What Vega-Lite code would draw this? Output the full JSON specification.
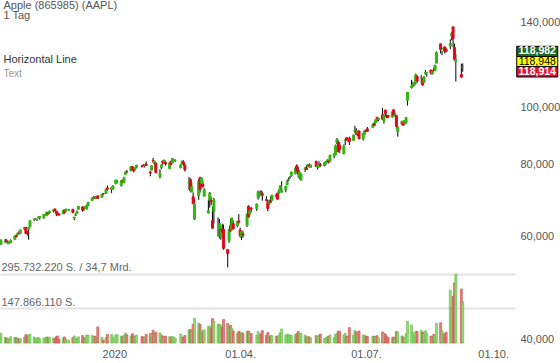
{
  "$schema": "https://vega.github.io/schema/vega-lite/v6.json",
  "width": 515,
  "height": 343,
  "autosize": {"type": "none"},
  "padding": {"left": 0, "top": 0, "right": 45, "bottom": 20},
  "background": "#ffffff",
  "config": {
    "view": {"stroke": null},
    "font": "Liberation Sans",
    "axis": {"labelFont": "Liberation Sans"},
    "text": {"font": "Liberation Sans"}
  },
  "datasets": {
    "px": [
      {"d":"2019-10-11","o":58.24,"h":59.41,"l":58.08,"c":59.05,"v":41.9},
      {"d":"2019-10-14","o":58.73,"h":59.53,"l":58.67,"c":58.97,"v":24.4},
      {"d":"2019-10-15","o":59.10,"h":59.41,"l":58.72,"c":58.83,"v":21.6},
      {"d":"2019-10-16","o":58.34,"h":58.81,"l":58.30,"c":58.59,"v":19.3},
      {"d":"2019-10-17","o":58.77,"h":59.04,"l":58.38,"c":58.82,"v":17.2},
      {"d":"2019-10-18","o":58.65,"h":59.40,"l":58.57,"c":59.10,"v":27.0},
      {"d":"2019-10-21","o":59.38,"h":60.25,"l":59.33,"c":60.13,"v":23.7},
      {"d":"2019-10-22","o":60.29,"h":60.55,"l":59.91,"c":59.99,"v":22.7},
      {"d":"2019-10-23","o":60.53,"h":60.81,"l":60.31,"c":60.79,"v":19.5},
      {"d":"2019-10-24","o":61.13,"h":61.20,"l":60.45,"c":60.90,"v":17.9},
      {"d":"2019-10-25","o":60.79,"h":61.68,"l":60.72,"c":61.65,"v":18.4},
      {"d":"2019-10-28","o":61.86,"h":62.31,"l":61.68,"c":62.26,"v":24.9},
      {"d":"2019-10-29","o":62.24,"h":62.44,"l":60.64,"c":60.82,"v":35.7},
      {"d":"2019-10-30","o":61.19,"h":61.33,"l":60.30,"c":60.81,"v":31.1},
      {"d":"2019-10-31","o":61.81,"h":62.29,"l":59.31,"c":62.19,"v":34.8},
      {"d":"2019-11-01","o":62.38,"h":63.98,"l":62.29,"c":63.96,"v":37.8},
      {"d":"2019-11-04","o":64.33,"h":64.46,"l":63.85,"c":64.38,"v":25.8},
      {"d":"2019-11-05","o":64.26,"h":64.55,"l":64.08,"c":64.28,"v":19.9},
      {"d":"2019-11-06","o":64.19,"h":64.37,"l":63.84,"c":64.31,"v":19.8},
      {"d":"2019-11-07","o":64.68,"h":65.09,"l":64.53,"c":64.86,"v":24.3},
      {"d":"2019-11-08","o":64.67,"h":65.11,"l":64.21,"c":65.04,"v":17.6},
      {"d":"2019-11-11","o":64.58,"h":65.62,"l":64.57,"c":65.55,"v":20.5},
      {"d":"2019-11-12","o":65.39,"h":65.70,"l":65.23,"c":65.49,"v":21.9},
      {"d":"2019-11-13","o":65.28,"h":66.20,"l":65.27,"c":66.12,"v":25.8},
      {"d":"2019-11-14","o":65.94,"h":66.22,"l":65.52,"c":65.66,"v":24.3},
      {"d":"2019-11-15","o":65.92,"h":66.45,"l":65.75,"c":66.44,"v":25.1},
      {"d":"2019-11-18","o":66.45,"h":66.86,"l":66.06,"c":66.78,"v":21.6},
      {"d":"2019-11-19","o":66.98,"h":67.00,"l":66.35,"c":66.57,"v":19.0},
      {"d":"2019-11-20","o":66.39,"h":66.52,"l":65.10,"c":65.80,"v":26.6},
      {"d":"2019-11-21","o":65.92,"h":66.00,"l":65.29,"c":65.50,"v":30.3},
      {"d":"2019-11-22","o":65.65,"h":65.80,"l":65.21,"c":65.45,"v":16.3},
      {"d":"2019-11-25","o":65.68,"h":66.61,"l":65.63,"c":66.59,"v":21.1},
      {"d":"2019-11-26","o":66.74,"h":66.79,"l":65.63,"c":66.07,"v":26.2},
      {"d":"2019-11-27","o":66.39,"h":66.99,"l":66.33,"c":66.96,"v":16.4},
      {"d":"2019-11-29","o":66.65,"h":67.00,"l":66.47,"c":66.81,"v":11.7},
      {"d":"2019-12-02","o":66.82,"h":67.06,"l":65.86,"c":66.04,"v":23.1},
      {"d":"2019-12-03","o":64.58,"h":64.88,"l":64.07,"c":64.86,"v":30.3},
      {"d":"2019-12-04","o":65.27,"h":65.83,"l":65.17,"c":65.44,"v":21.3},
      {"d":"2019-12-05","o":65.95,"h":66.47,"l":65.68,"c":66.39,"v":18.6},
      {"d":"2019-12-06","o":66.87,"h":67.75,"l":66.82,"c":67.68,"v":26.5},
      {"d":"2019-12-09","o":67.50,"h":67.70,"l":66.23,"c":66.73,"v":32.2},
      {"d":"2019-12-10","o":67.15,"h":67.52,"l":66.46,"c":67.12,"v":22.4},
      {"d":"2019-12-11","o":67.20,"h":67.78,"l":67.12,"c":67.69,"v":19.7},
      {"d":"2019-12-12","o":66.95,"h":68.14,"l":66.83,"c":67.86,"v":34.3},
      {"d":"2019-12-13","o":67.86,"h":68.82,"l":67.73,"c":68.79,"v":33.9},
      {"d":"2019-12-16","o":69.25,"h":70.20,"l":69.25,"c":69.97,"v":32.1},
      {"d":"2019-12-17","o":69.89,"h":70.44,"l":69.70,"c":70.10,"v":28.5},
      {"d":"2019-12-18","o":69.95,"h":70.48,"l":69.78,"c":69.93,"v":29.0},
      {"d":"2019-12-19","o":69.88,"h":70.29,"l":69.74,"c":70.01,"v":24.6},
      {"d":"2019-12-20","o":70.56,"h":70.66,"l":69.64,"c":69.86,"v":69.0},
      {"d":"2019-12-23","o":70.13,"h":71.06,"l":70.09,"c":71.00,"v":24.9},
      {"d":"2019-12-24","o":71.17,"h":71.22,"l":70.73,"c":71.07,"v":12.1},
      {"d":"2019-12-26","o":71.21,"h":72.50,"l":71.18,"c":72.48,"v":23.3},
      {"d":"2019-12-27","o":72.78,"h":73.49,"l":72.03,"c":72.45,"v":36.6},
      {"d":"2019-12-30","o":72.36,"h":73.17,"l":71.31,"c":72.88,"v":36.0},
      {"d":"2019-12-31","o":72.48,"h":73.42,"l":72.38,"c":73.41,"v":25.2},
      {"d":"2020-01-02","o":74.06,"h":75.15,"l":73.80,"c":75.09,"v":33.9},
      {"d":"2020-01-03","o":74.29,"h":75.14,"l":74.13,"c":74.36,"v":36.6},
      {"d":"2020-01-06","o":73.45,"h":74.99,"l":73.19,"c":74.95,"v":29.6},
      {"d":"2020-01-07","o":74.96,"h":75.22,"l":74.37,"c":74.60,"v":27.9},
      {"d":"2020-01-08","o":74.29,"h":76.11,"l":74.29,"c":75.80,"v":33.0},
      {"d":"2020-01-09","o":76.81,"h":77.61,"l":76.55,"c":77.41,"v":42.6},
      {"d":"2020-01-10","o":77.65,"h":78.17,"l":77.06,"c":77.58,"v":35.2},
      {"d":"2020-01-13","o":77.91,"h":79.27,"l":77.79,"c":79.24,"v":30.5},
      {"d":"2020-01-14","o":79.18,"h":79.39,"l":78.04,"c":78.17,"v":40.1},
      {"d":"2020-01-15","o":77.96,"h":78.88,"l":77.39,"c":77.83,"v":30.3},
      {"d":"2020-01-16","o":78.40,"h":78.93,"l":78.02,"c":78.81,"v":27.0},
      {"d":"2020-01-17","o":79.07,"h":79.68,"l":78.75,"c":79.68,"v":34.3},
      {"d":"2020-01-21","o":79.30,"h":79.75,"l":79.00,"c":79.14,"v":27.6},
      {"d":"2020-01-22","o":79.64,"h":79.99,"l":79.33,"c":79.43,"v":25.8},
      {"d":"2020-01-23","o":79.48,"h":79.89,"l":78.91,"c":79.81,"v":25.7},
      {"d":"2020-01-24","o":80.06,"h":80.83,"l":79.38,"c":79.58,"v":37.0},
      {"d":"2020-01-27","o":77.51,"h":77.94,"l":76.22,"c":77.24,"v":40.0},
      {"d":"2020-01-28","o":78.15,"h":79.60,"l":78.05,"c":79.42,"v":40.6},
      {"d":"2020-01-29","o":81.11,"h":81.96,"l":80.35,"c":81.08,"v":54.1},
      {"d":"2020-01-30","o":80.14,"h":81.02,"l":79.69,"c":80.97,"v":36.4},
      {"d":"2020-01-31","o":80.23,"h":80.67,"l":77.07,"c":77.38,"v":46.3},
      {"d":"2020-02-03","o":76.07,"h":78.37,"l":75.56,"c":77.17,"v":43.5},
      {"d":"2020-02-04","o":78.83,"h":79.91,"l":78.41,"c":79.71,"v":34.2},
      {"d":"2020-02-05","o":80.88,"h":81.19,"l":79.74,"c":80.36,"v":29.9},
      {"d":"2020-02-06","o":80.64,"h":81.31,"l":80.07,"c":81.30,"v":26.4},
      {"d":"2020-02-07","o":80.59,"h":80.85,"l":79.50,"c":80.01,"v":29.5},
      {"d":"2020-02-10","o":78.54,"h":80.39,"l":78.46,"c":80.39,"v":27.3},
      {"d":"2020-02-11","o":80.90,"h":80.97,"l":79.68,"c":79.90,"v":23.7},
      {"d":"2020-02-12","o":80.37,"h":81.81,"l":80.37,"c":81.80,"v":28.4},
      {"d":"2020-02-13","o":81.05,"h":81.56,"l":80.84,"c":81.22,"v":23.6},
      {"d":"2020-02-14","o":81.18,"h":81.50,"l":80.71,"c":81.24,"v":20.2},
      {"d":"2020-02-18","o":78.84,"h":79.94,"l":78.65,"c":79.75,"v":38.2},
      {"d":"2020-02-19","o":80.00,"h":81.14,"l":80.00,"c":80.90,"v":23.9},
      {"d":"2020-02-20","o":80.66,"h":81.16,"l":79.55,"c":80.07,"v":25.9},
      {"d":"2020-02-21","o":79.65,"h":80.11,"l":77.63,"c":78.26,"v":32.1},
      {"d":"2020-02-24","o":74.32,"h":76.04,"l":72.31,"c":74.54,"v":55.5},
      {"d":"2020-02-25","o":75.24,"h":75.63,"l":71.53,"c":72.02,"v":57.7},
      {"d":"2020-02-26","o":71.63,"h":74.47,"l":71.63,"c":73.16,"v":49.7},
      {"d":"2020-02-27","o":70.28,"h":71.50,"l":68.24,"c":68.38,"v":80.2},
      {"d":"2020-02-28","o":64.32,"h":69.60,"l":64.09,"c":68.34,"v":106.7},
      {"d":"2020-03-02","o":70.57,"h":75.36,"l":69.43,"c":74.70,"v":85.3},
      {"d":"2020-03-03","o":75.92,"h":76.00,"l":71.45,"c":72.33,"v":79.9},
      {"d":"2020-03-04","o":74.11,"h":75.85,"l":73.28,"c":75.68,"v":54.8},
      {"d":"2020-03-05","o":73.88,"h":74.89,"l":72.85,"c":73.23,"v":47.1},
      {"d":"2020-03-06","o":70.50,"h":72.71,"l":70.31,"c":72.26,"v":56.5},
      {"d":"2020-03-09","o":65.94,"h":69.52,"l":65.75,"c":66.54,"v":71.7},
      {"d":"2020-03-10","o":69.29,"h":71.61,"l":67.34,"c":71.33,"v":71.4},
      {"d":"2020-03-11","o":69.35,"h":70.31,"l":67.96,"c":68.86,"v":64.1},
      {"d":"2020-03-12","o":63.99,"h":67.50,"l":62.00,"c":62.06,"v":104.6},
      {"d":"2020-03-13","o":66.22,"h":69.98,"l":63.24,"c":69.49,"v":92.7},
      {"d":"2020-03-16","o":60.49,"h":64.77,"l":60.00,"c":60.55,"v":80.6},
      {"d":"2020-03-17","o":61.88,"h":64.40,"l":59.60,"c":63.22,"v":81.0},
      {"d":"2020-03-18","o":59.94,"h":62.50,"l":59.28,"c":61.67,"v":75.1},
      {"d":"2020-03-19","o":61.85,"h":63.21,"l":60.65,"c":61.20,"v":67.1},
      {"d":"2020-03-20","o":61.79,"h":62.96,"l":57.00,"c":57.31,"v":100.4},
      {"d":"2020-03-23","o":57.02,"h":57.13,"l":53.15,"c":56.09,"v":84.2},
      {"d":"2020-03-24","o":59.09,"h":61.92,"l":58.58,"c":61.72,"v":71.9},
      {"d":"2020-03-25","o":62.69,"h":64.56,"l":61.08,"c":61.38,"v":75.9},
      {"d":"2020-03-26","o":61.63,"h":64.67,"l":61.59,"c":64.61,"v":63.1},
      {"d":"2020-03-27","o":63.19,"h":63.97,"l":61.76,"c":61.94,"v":51.1},
      {"d":"2020-03-30","o":62.69,"h":63.88,"l":62.35,"c":63.70,"v":41.9},
      {"d":"2020-03-31","o":63.90,"h":65.62,"l":63.00,"c":63.57,"v":49.9},
      {"d":"2020-04-01","o":61.63,"h":62.18,"l":59.78,"c":60.23,"v":44.3},
      {"d":"2020-04-02","o":60.08,"h":61.29,"l":59.22,"c":61.23,"v":45.1},
      {"d":"2020-04-03","o":60.70,"h":61.43,"l":59.74,"c":60.35,"v":41.4},
      {"d":"2020-04-06","o":62.72,"h":65.78,"l":62.35,"c":65.62,"v":50.3},
      {"d":"2020-04-07","o":67.70,"h":67.93,"l":64.75,"c":64.86,"v":51.5},
      {"d":"2020-04-08","o":65.68,"h":66.84,"l":65.31,"c":66.52,"v":42.2},
      {"d":"2020-04-09","o":67.18,"h":67.52,"l":66.18,"c":67.00,"v":40.5},
      {"d":"2020-04-13","o":67.08,"h":68.43,"l":66.46,"c":68.31,"v":33.2},
      {"d":"2020-04-14","o":70.00,"h":72.06,"l":69.51,"c":71.76,"v":48.7},
      {"d":"2020-04-15","o":70.60,"h":71.58,"l":70.16,"c":71.11,"v":32.9},
      {"d":"2020-04-16","o":71.85,"h":72.05,"l":70.59,"c":71.67,"v":39.4},
      {"d":"2020-04-17","o":71.17,"h":71.74,"l":69.21,"c":70.70,"v":53.8},
      {"d":"2020-04-20","o":69.49,"h":70.42,"l":69.21,"c":69.23,"v":32.9},
      {"d":"2020-04-21","o":69.07,"h":69.31,"l":66.36,"c":67.09,"v":45.2},
      {"d":"2020-04-22","o":68.40,"h":69.48,"l":68.05,"c":69.03,"v":29.3},
      {"d":"2020-04-23","o":68.97,"h":70.44,"l":68.72,"c":68.76,"v":31.2},
      {"d":"2020-04-24","o":69.30,"h":70.75,"l":69.25,"c":70.74,"v":31.6},
      {"d":"2020-04-27","o":70.45,"h":71.14,"l":69.99,"c":70.79,"v":29.0},
      {"d":"2020-04-28","o":71.27,"h":71.46,"l":69.55,"c":69.64,"v":28.2},
      {"d":"2020-04-29","o":71.18,"h":72.42,"l":70.97,"c":71.93,"v":33.8},
      {"d":"2020-04-30","o":72.49,"h":73.63,"l":72.09,"c":73.45,"v":45.8},
      {"d":"2020-05-01","o":71.56,"h":74.75,"l":71.46,"c":72.27,"v":60.2},
      {"d":"2020-05-04","o":72.29,"h":73.42,"l":71.58,"c":73.29,"v":33.4},
      {"d":"2020-05-05","o":73.76,"h":75.25,"l":73.61,"c":74.39,"v":37.6},
      {"d":"2020-05-06","o":75.11,"h":75.81,"l":74.72,"c":75.16,"v":35.6},
      {"d":"2020-05-07","o":75.81,"h":76.29,"l":75.49,"c":75.93,"v":33.6},
      {"d":"2020-05-08","o":76.41,"h":77.59,"l":76.07,"c":77.53,"v":33.5},
      {"d":"2020-05-11","o":77.03,"h":79.26,"l":76.81,"c":78.75,"v":36.5},
      {"d":"2020-05-12","o":79.46,"h":79.92,"l":77.73,"c":77.85,"v":40.5},
      {"d":"2020-05-13","o":78.04,"h":78.99,"l":75.80,"c":76.91,"v":50.2},
      {"d":"2020-05-14","o":76.13,"h":77.45,"l":75.38,"c":77.39,"v":39.7},
      {"d":"2020-05-15","o":75.09,"h":76.97,"l":75.05,"c":76.93,"v":41.6},
      {"d":"2020-05-18","o":78.29,"h":79.13,"l":77.58,"c":78.74,"v":33.8},
      {"d":"2020-05-19","o":78.76,"h":79.63,"l":78.25,"c":78.29,"v":25.4},
      {"d":"2020-05-20","o":79.17,"h":79.88,"l":79.13,"c":79.81,"v":28.2},
      {"d":"2020-05-21","o":79.67,"h":80.22,"l":78.97,"c":79.21,"v":25.5},
      {"d":"2020-05-22","o":78.94,"h":79.81,"l":78.84,"c":79.72,"v":20.4},
      {"d":"2020-05-26","o":80.88,"h":81.06,"l":79.13,"c":79.18,"v":31.4},
      {"d":"2020-05-27","o":79.04,"h":79.68,"l":78.27,"c":79.53,"v":28.2},
      {"d":"2020-05-28","o":79.19,"h":80.86,"l":78.91,"c":79.56,"v":33.4},
      {"d":"2020-05-29","o":79.81,"h":80.29,"l":79.12,"c":79.49,"v":38.3},
      {"d":"2020-06-01","o":79.44,"h":80.59,"l":79.30,"c":80.46,"v":20.2},
      {"d":"2020-06-02","o":80.19,"h":80.86,"l":79.73,"c":80.84,"v":21.9},
      {"d":"2020-06-03","o":81.17,"h":81.55,"l":80.58,"c":81.28,"v":26.1},
      {"d":"2020-06-04","o":81.10,"h":81.40,"l":80.19,"c":80.58,"v":28.7},
      {"d":"2020-06-05","o":80.84,"h":82.94,"l":80.81,"c":82.88,"v":34.3},
      {"d":"2020-06-08","o":82.56,"h":83.40,"l":81.83,"c":83.36,"v":23.9},
      {"d":"2020-06-09","o":83.04,"h":86.40,"l":83.00,"c":86.00,"v":36.9},
      {"d":"2020-06-10","o":86.97,"h":88.69,"l":86.52,"c":88.21,"v":41.7},
      {"d":"2020-06-11","o":87.33,"h":87.76,"l":83.87,"c":83.97,"v":50.6},
      {"d":"2020-06-12","o":86.18,"h":86.95,"l":83.56,"c":84.70,"v":50.2},
      {"d":"2020-06-15","o":83.31,"h":86.42,"l":83.14,"c":85.75,"v":34.7},
      {"d":"2020-06-16","o":87.87,"h":88.30,"l":86.18,"c":88.02,"v":41.3},
      {"d":"2020-06-17","o":88.79,"h":88.85,"l":87.77,"c":87.90,"v":29.3},
      {"d":"2020-06-18","o":87.85,"h":88.36,"l":87.31,"c":87.93,"v":24.2},
      {"d":"2020-06-19","o":88.66,"h":89.14,"l":86.29,"c":87.43,"v":66.0},
      {"d":"2020-06-22","o":87.83,"h":89.86,"l":87.79,"c":89.72,"v":33.9},
      {"d":"2020-06-23","o":91.00,"h":93.10,"l":90.57,"c":91.63,"v":53.0},
      {"d":"2020-06-24","o":91.25,"h":92.20,"l":89.63,"c":90.02,"v":48.3},
      {"d":"2020-06-25","o":90.18,"h":91.25,"l":89.39,"c":91.21,"v":34.9},
      {"d":"2020-06-26","o":91.10,"h":91.33,"l":88.25,"c":88.41,"v":51.3},
      {"d":"2020-06-29","o":88.31,"h":90.54,"l":87.82,"c":90.45,"v":32.7},
      {"d":"2020-06-30","o":90.02,"h":91.50,"l":90.00,"c":91.20,"v":35.1},
      {"d":"2020-07-01","o":91.28,"h":91.84,"l":90.98,"c":91.03,"v":27.7},
      {"d":"2020-07-02","o":91.96,"h":92.62,"l":90.91,"c":91.03,"v":28.5},
      {"d":"2020-07-06","o":92.50,"h":93.95,"l":92.47,"c":93.46,"v":29.7},
      {"d":"2020-07-07","o":93.85,"h":94.66,"l":93.06,"c":93.17,"v":28.1},
      {"d":"2020-07-08","o":94.18,"h":95.38,"l":94.09,"c":95.34,"v":29.0},
      {"d":"2020-07-09","o":96.26,"h":96.32,"l":94.67,"c":95.75,"v":31.2},
      {"d":"2020-07-10","o":95.34,"h":95.98,"l":94.71,"c":95.92,"v":22.6},
      {"d":"2020-07-13","o":97.26,"h":99.96,"l":95.26,"c":95.48,"v":47.7},
      {"d":"2020-07-14","o":94.84,"h":97.26,"l":93.88,"c":97.06,"v":42.1},
      {"d":"2020-07-15","o":98.99,"h":99.25,"l":96.49,"c":97.73,"v":38.3},
      {"d":"2020-07-16","o":96.56,"h":97.40,"l":95.91,"c":96.52,"v":27.6},
      {"d":"2020-07-17","o":96.99,"h":97.15,"l":95.84,"c":96.33,"v":23.5},
      {"d":"2020-07-20","o":96.42,"h":98.50,"l":96.06,"c":98.36,"v":22.7},
      {"d":"2020-07-21","o":99.17,"h":99.25,"l":96.74,"c":97.00,"v":26.0},
      {"d":"2020-07-22","o":96.69,"h":97.97,"l":96.60,"c":97.27,"v":22.4},
      {"d":"2020-07-23","o":96.99,"h":97.08,"l":92.01,"c":92.85,"v":49.6},
      {"d":"2020-07-24","o":90.99,"h":92.97,"l":89.14,"c":92.62,"v":46.6},
      {"d":"2020-07-27","o":93.71,"h":94.91,"l":93.48,"c":94.81,"v":30.3},
      {"d":"2020-07-28","o":94.37,"h":94.55,"l":93.25,"c":93.25,"v":25.9},
      {"d":"2020-07-29","o":93.75,"h":95.23,"l":93.71,"c":95.04,"v":22.6},
      {"d":"2020-07-30","o":94.19,"h":96.30,"l":93.77,"c":96.19,"v":39.5},
      {"d":"2020-07-31","o":102.89,"h":106.42,"l":100.83,"c":106.26,"v":93.6},
      {"d":"2020-08-03","o":108.20,"h":111.64,"l":107.89,"c":108.94,"v":76.7},
      {"d":"2020-08-04","o":109.13,"h":110.79,"l":108.39,"c":109.67,"v":43.9},
      {"d":"2020-08-05","o":109.38,"h":110.39,"l":108.90,"c":110.06,"v":30.5},
      {"d":"2020-08-06","o":110.41,"h":114.41,"l":109.80,"c":113.90,"v":50.6},
      {"d":"2020-08-07","o":113.21,"h":113.68,"l":110.29,"c":111.11,"v":49.5},
      {"d":"2020-08-10","o":112.60,"h":113.78,"l":110.00,"c":112.73,"v":53.9},
      {"d":"2020-08-11","o":111.97,"h":112.48,"l":109.11,"c":109.38,"v":46.7},
      {"d":"2020-08-12","o":110.50,"h":113.28,"l":110.30,"c":113.01,"v":41.5},
      {"d":"2020-08-13","o":114.43,"h":116.04,"l":113.93,"c":115.01,"v":52.7},
      {"d":"2020-08-14","o":114.83,"h":115.00,"l":113.05,"c":114.91,"v":41.8},
      {"d":"2020-08-17","o":116.06,"h":116.09,"l":113.96,"c":114.61,"v":29.9},
      {"d":"2020-08-18","o":114.35,"h":116.00,"l":114.01,"c":115.56,"v":26.4},
      {"d":"2020-08-19","o":115.98,"h":117.16,"l":115.61,"c":115.71,"v":36.9},
      {"d":"2020-08-20","o":115.75,"h":118.39,"l":115.73,"c":118.28,"v":31.7},
      {"d":"2020-08-21","o":119.26,"h":124.87,"l":119.25,"c":124.37,"v":84.6},
      {"d":"2020-08-24","o":128.70,"h":128.79,"l":123.94,"c":125.86,"v":86.4},
      {"d":"2020-08-25","o":124.70,"h":125.18,"l":123.05,"c":124.83,"v":52.9},
      {"d":"2020-08-26","o":126.18,"h":126.99,"l":125.08,"c":126.52,"v":41.4},
      {"d":"2020-08-27","o":127.14,"h":127.49,"l":123.83,"c":125.01,"v":37.6},
      {"d":"2020-08-28","o":126.01,"h":126.44,"l":124.58,"c":124.81,"v":46.2},
      {"d":"2020-08-31","o":127.58,"h":131.00,"l":126.00,"c":129.04,"v":225.7},
      {"d":"2020-09-01","o":132.76,"h":134.80,"l":130.53,"c":134.18,"v":151.9},
      {"d":"2020-09-02","o":137.59,"h":137.98,"l":127.00,"c":131.40,"v":200.1},
      {"d":"2020-09-03","o":126.91,"h":128.84,"l":120.50,"c":120.88,"v":257.6},
      {"d":"2020-09-04","o":120.07,"h":123.70,"l":110.89,"c":120.96,"v":295.7},
      {"d":"2020-09-08","o":113.95,"h":118.99,"l":112.68,"c":112.82,"v":231.4},
      {"d":"2020-09-09","o":117.26,"h":119.14,"l":115.26,"c":117.32,"v":176.9}
    ],
    "tags": [
      {"kind":"ask","label":"118,982","price":118.982},
      {"kind":"last","label":"118,948","price":118.948},
      {"kind":"bid","label":"118,914","price":118.914}
    ]
  },
  "layer": [
    {
      "data": {"name": "px"},
      "mark": {"type": "bar", "size": 2, "strokeWidth": 0.6},
      "encoding": {
        "x": {
          "field": "d", "type": "temporal",
          "scale": {"type": "utc", "padding": 0, "nice": false, "domain": [{"year":2019,"month":10,"date":10,"hours":6,"minutes":42,"utc":true},{"year":2020,"month":10,"date":16,"hours":19,"minutes":12,"utc":true}]},
          "axis": {
            "values": [{"year":2020,"month":1,"date":1,"utc":true},{"year":2020,"month":4,"date":1,"utc":true},{"year":2020,"month":7,"date":1,"utc":true},{"year":2020,"month":10,"date":1,"utc":true}],
            "labelExpr": "utcmonth(datum.value) == 0 ? utcFormat(datum.value, '%Y') : utcFormat(datum.value, '%d.%m.')",
            "domain": false, "ticks": false, "tickSize": 0, "grid": false,
            "labelPadding": 5, "labelFontSize": 11, "labelColor": "#555555",
            "title": null, "labelFlush": false, "labelOverlap": false
          }
        },
        "y": {
          "field": "v", "type": "quantitative",
          "scale": {"domain": [0, 1470], "nice": false, "zero": true},
          "axis": {
            "orient": "left", "values": [147.866, 295.732],
            "grid": true, "gridColor": "#e3e3e3", "gridWidth": 2,
            "domain": false, "ticks": false, "tickSize": 0,
            "labelAlign": "left", "labelBaseline": "alphabetic",
            "labelPadding": -1, "labelOffset": -3,
            "labelExpr": "datum.value > 200 ? '295.732.220 S. / 34,7 Mrd.' : '147.866.110 S.'",
            "labelFontSize": 11, "labelColor": "#666666",
            "title": null, "labelFlush": false, "labelOverlap": false, "labelBound": false
          }
        },
        "fill": {"condition": {"test": "datum.c >= datum.o", "value": "#94dc78"}, "value": "#ec7d7d"},
        "stroke": {"condition": {"test": "datum.c >= datum.o", "value": "#62b845"}, "value": "#c44d4d"}
      }
    },
    {
      "data": {"name": "px"},
      "layer": [
        {
          "mark": {"type": "rule", "color": "#000000", "strokeWidth": 1},
          "encoding": {
            "x": {"field": "d", "type": "temporal"},
            "y": {"field": "l", "type": "quantitative", "scale": {"type": "log", "domain": [39.41, 153.1], "nice": false},
              "axis": {
                "orient": "right", "values": [40, 60, 80, 100, 140],
                "labelExpr": "replace(format(datum.value, '.3f'), '.', ',')",
                "domain": false, "ticks": false, "tickSize": 0, "grid": false,
                "labelPadding": 5, "labelFontSize": 11, "labelColor": "#555555",
                "title": null, "labelFlush": false, "labelOverlap": false
              }},
            "y2": {"field": "h"}
          }
        },
        {
          "mark": {"type": "bar", "size": 2, "strokeWidth": 1},
          "encoding": {
            "x": {"field": "d", "type": "temporal"},
            "y": {"field": "o", "type": "quantitative"},
            "y2": {"field": "c"},
            "fill": {"condition": {"test": "datum.c >= datum.o", "value": "#36b514"}, "value": "#e0081a"},
            "stroke": {"condition": {"test": "datum.c >= datum.o", "value": "#36b514"}, "value": "#e0081a"}
          }
        }
      ]
    },
    {
      "data": {"values": [{"t": "Apple (865985) (AAPL)"}]},
      "mark": {"type": "text", "align": "left", "baseline": "alphabetic", "fontSize": 11, "color": "#555555"},
      "encoding": {
        "x": {"datum": {"year":2019,"month":10,"date":12,"hours":19,"utc":true}, "type": "temporal"},
        "y": {"datum": 147.5, "type": "quantitative", "scale": {"type": "log", "domain": [39.41, 153.1], "nice": false}, "axis": null},
        "text": {"field": "t"}
      }
    },
    {
      "data": {"values": [{"t": "1 Tag"}]},
      "mark": {"type": "text", "align": "left", "baseline": "alphabetic", "fontSize": 11, "color": "#555555"},
      "encoding": {
        "x": {"datum": {"year":2019,"month":10,"date":12,"hours":19,"utc":true}, "type": "temporal"},
        "y": {"datum": 142.05, "type": "quantitative", "scale": {"type": "log", "domain": [39.41, 153.1], "nice": false}, "axis": null},
        "text": {"field": "t"}
      }
    },
    {
      "data": {"values": [{"t": "Horizontal Line"}]},
      "mark": {"type": "text", "align": "left", "baseline": "alphabetic", "fontSize": 11, "color": "#333333"},
      "encoding": {
        "x": {"datum": {"year":2019,"month":10,"date":12,"hours":19,"utc":true}, "type": "temporal"},
        "y": {"datum": 119.35, "type": "quantitative", "scale": {"type": "log", "domain": [39.41, 153.1], "nice": false}, "axis": null},
        "text": {"field": "t"}
      }
    },
    {
      "data": {"values": [{"t": "Text"}]},
      "mark": {"type": "text", "align": "left", "baseline": "alphabetic", "fontSize": 10, "color": "#999999"},
      "encoding": {
        "x": {"datum": {"year":2019,"month":10,"date":12,"hours":19,"utc":true}, "type": "temporal"},
        "y": {"datum": 112.9, "type": "quantitative", "scale": {"type": "log", "domain": [39.41, 153.1], "nice": false}, "axis": null},
        "text": {"field": "t"}
      }
    },
    {
      "data": {"name": "tags"},
      "transform": [{"filter": "datum.kind == 'ask'"}],
      "encoding": {
        "x": {"datum": {"year":2020,"month":11,"date":1,"hours":21,"utc":true}, "type": "temporal"},
        "y": {"field": "price", "type": "quantitative", "scale": {"type": "log", "domain": [39.41, 153.1], "nice": false}, "axis": null}
      },
      "layer": [
        {"mark": {"type": "point", "shape": "M-1,-0.25H1V0.25H-1Z", "size": 1681, "filled": true, "fill": "#1f6b21", "stroke": "#000000", "strokeWidth": 1, "opacity": 1, "yOffset": -12.3}},
        {"mark": {"type": "text", "fontSize": 10.5, "fontWeight": "bold", "color": "#ffffff", "align": "center", "baseline": "middle", "yOffset": -12.3}, "encoding": {"text": {"field": "label"}}}
      ]
    },
    {
      "data": {"name": "tags"},
      "transform": [{"filter": "datum.kind == 'last'"}],
      "encoding": {
        "x": {"datum": {"year":2020,"month":11,"date":1,"hours":21,"utc":true}, "type": "temporal"},
        "y": {"field": "price", "type": "quantitative", "scale": {"type": "log", "domain": [39.41, 153.1], "nice": false}, "axis": null}
      },
      "layer": [
        {"mark": {"type": "point", "shape": "M-1,-0.25H1V0.25H-1Z", "size": 1681, "filled": true, "fill": "#ffff00", "stroke": "#000000", "strokeWidth": 1, "opacity": 1, "yOffset": -2.2}},
        {"mark": {"type": "text", "fontSize": 10.5, "color": "#000000", "align": "center", "baseline": "middle", "yOffset": -2.2}, "encoding": {"text": {"field": "label"}}}
      ]
    },
    {
      "data": {"name": "tags"},
      "transform": [{"filter": "datum.kind == 'bid'"}],
      "encoding": {
        "x": {"datum": {"year":2020,"month":11,"date":1,"hours":21,"utc":true}, "type": "temporal"},
        "y": {"field": "price", "type": "quantitative", "scale": {"type": "log", "domain": [39.41, 153.1], "nice": false}, "axis": null}
      },
      "layer": [
        {"mark": {"type": "point", "shape": "M-1,-0.25H1V0.25H-1Z", "size": 1681, "filled": true, "fill": "#e4112e", "stroke": "#000000", "strokeWidth": 1, "opacity": 1, "yOffset": 8}},
        {"mark": {"type": "text", "fontSize": 10.5, "fontWeight": "bold", "color": "#ffffff", "align": "center", "baseline": "middle", "yOffset": 8}, "encoding": {"text": {"field": "label"}}}
      ]
    }
  ],
  "resolve": {"scale": {"y": "independent"}, "axis": {"y": "independent"}}
}
